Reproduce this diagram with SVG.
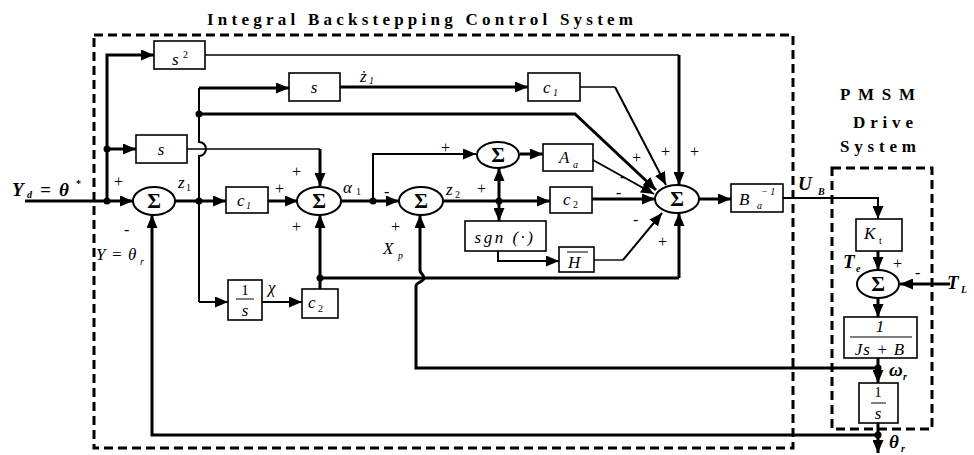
<svg xmlns="http://www.w3.org/2000/svg" width="974" height="455" viewBox="0 0 974 455">
<defs>
<marker id="ah" markerWidth="13" markerHeight="11" refX="13" refY="5.5" orient="auto" markerUnits="userSpaceOnUse"><path d="M0,0 L13,5.5 L0,11 z" fill="#000"/></marker>
<style>
.box{fill:#fff;stroke:#000;stroke-width:1.6}
.sum{fill:#fff;stroke:#000;stroke-width:2}
.dash{fill:none;stroke:#000;stroke-width:3;stroke-dasharray:9 5}
.k{fill:none;stroke:#000;stroke-width:3}
.m{fill:none;stroke:#000;stroke-width:2}
.n{fill:none;stroke:#000;stroke-width:1.4}
.a{marker-end:url(#ah)}
.dot{fill:#000}
text{font-family:"Liberation Serif","Times New Roman",serif;fill:#000}
.title{font-size:17px;font-weight:bold}
.sig{font-size:21px;font-weight:bold;text-anchor:middle}
.i{font-style:italic;font-size:17px}
.bi{font-style:italic;font-weight:bold;font-size:19px}
.sub{font-size:10px}
.pm{font-size:16px}
.c{text-anchor:middle}
</style>
</defs>
<rect width="974" height="455" fill="#fff"/>
<g id="frames">
<rect class="dash" x="94" y="35" width="699" height="413"/>
<rect class="dash" x="832" y="168" width="100" height="261"/>
<text class="title" x="207" y="25" textLength="426" lengthAdjust="spacing">Integral Backstepping Control System</text>
<text class="title" x="840" y="100" textLength="75" lengthAdjust="spacing">PMSM</text>
<text class="title" x="853" y="128" textLength="60" lengthAdjust="spacing">Drive</text>
<text class="title" x="840" y="152" textLength="76" lengthAdjust="spacing">System</text>
</g>
<g id="connectors">
<path class="k a" d="M25,201 H133"/>
<path class="k a" d="M107,201 V55 H154"/>
<path class="k a" d="M107,149 H136"/>
<path class="k a" d="M175,201 H226"/>
<path class="m" d="M199,302 V156 A7,7 0 0 0 199,142 V88"/>
<path class="k a" d="M199,88 H289"/>
<path class="m a" d="M199,302 H228"/>
<path class="k a" d="M199,114 H575 L656,190"/>
<path class="n" d="M187,149 H320"/>
<path class="k a" d="M320,149 V186"/>
<path class="k a" d="M268,201 H298"/>
<path class="m a" d="M262,302 H302"/>
<path class="k a" d="M320,289 V215"/>
<path class="k" d="M320,278 H679"/>
<path class="k a" d="M679,278 V213"/>
<path class="k a" d="M341,201 H399"/>
<path class="m a" d="M373,201 V154 H476"/>
<path class="k a" d="M443,201 H550"/>
<path class="k a" d="M499,201 V168"/>
<path class="k a" d="M499,201 V221"/>
<path class="k a" d="M520,154 H543"/>
<path class="m a" d="M498,251 V261 H559"/>
<path class="k a" d="M340,87 H528"/>
<path class="n" d="M205,55 H679"/>
<path class="k a" d="M679,55 V185"/>
<path class="n" d="M580,87 H615"/>
<path class="m a" d="M615,87 L666,185"/>
<path class="m a" d="M593,160 L654,194"/>
<path class="k a" d="M592,199 H655"/>
<path class="n" d="M594,260 H623"/>
<path class="m a" d="M623,260 L662,213"/>
<path class="k a" d="M699,199 H731"/>
<path class="m a" d="M783,198 H878 V219"/>
<path class="k a" d="M878,251 V270"/>
<path class="k a" d="M950,284 H900"/>
<path class="k a" d="M878,298 V317"/>
<path class="k a" d="M878,358 V383"/>
<path class="k a" d="M878,423 V453"/>
<path class="k a" d="M878,435 H152 V215"/>
<path class="k" d="M878,368 H416 V286 C416,282 424,282 424,278 C424,274 420,274 420,270"/>
<path class="k a" d="M420,271 V215"/>
<circle class="dot" cx="107" cy="201" r="3.5"/>
<circle class="dot" cx="107" cy="149" r="3.5"/>
<circle class="dot" cx="199" cy="201" r="3.5"/>
<circle class="dot" cx="199" cy="114" r="3.5"/>
<circle class="dot" cx="373" cy="201" r="3.5"/>
<circle class="dot" cx="499" cy="201" r="3.5"/>
<circle class="dot" cx="320" cy="278" r="3.5"/>
<circle class="dot" cx="878" cy="368" r="3.5"/>
<circle class="dot" cx="878" cy="435" r="3.5"/>
</g>
<g id="sum1"><ellipse class="sum" cx="154" cy="201" rx="21" ry="14"/><text class="sig" x="154" y="208">Σ</text></g>
<g id="sum2"><ellipse class="sum" cx="319" cy="201" rx="22" ry="14"/><text class="sig" x="319" y="208">Σ</text></g>
<g id="sum3"><ellipse class="sum" cx="421" cy="201" rx="22" ry="14"/><text class="sig" x="421" y="208">Σ</text></g>
<g id="sum4"><ellipse class="sum" cx="498" cy="155" rx="21" ry="13"/><text class="sig" x="498" y="162">Σ</text></g>
<g id="sum5"><ellipse class="sum" cx="677" cy="199" rx="22" ry="14"/><text class="sig" x="677" y="206">Σ</text></g>
<g id="sum6"><ellipse class="sum" cx="878" cy="284" rx="21" ry="14"/><text class="sig" x="878" y="291">Σ</text></g>
<g id="s2"><rect class="box" x="154" y="41" width="51" height="28"/><text class="i" x="172" y="65">s</text><text class="sub" x="183" y="58">2</text></g>
<g id="sLeft"><rect class="box" x="136" y="135" width="51" height="28"/><text class="i c" x="161" y="155">s</text></g>
<g id="sMid"><rect class="box" x="289" y="73" width="51" height="28"/><text class="i c" x="314" y="93">s</text></g>
<g id="c1a"><rect class="box" x="226" y="187" width="42" height="26"/><text class="i" x="237" y="206">c</text><text class="sub" x="246" y="209" font-style="italic">1</text></g>
<g id="int1"><rect class="box" x="228" y="280" width="34" height="40"/><text class="c" font-size="15" x="245" y="295">1</text><line x1="236" y1="299" x2="254" y2="299" stroke="#000" stroke-width="1"/><text class="i c" font-size="15" x="245" y="316">s</text></g>
<g id="c2a"><rect class="box" x="302" y="289" width="36" height="29"/><text class="i" x="308" y="308">c</text><text class="sub" x="318" y="312">2</text></g>
<g id="c1b"><rect class="box" x="528" y="73" width="52" height="28"/><text class="i" x="543" y="93">c</text><text class="sub" x="553" y="96" font-style="italic">1</text></g>
<g id="Aa"><rect class="box" x="543" y="144" width="50" height="27"/><text class="i" x="559" y="163">A</text><text class="sub" x="573" y="168" font-style="italic">a</text></g>
<g id="c2b"><rect class="box" x="550" y="187" width="42" height="26"/><text class="i" x="563" y="205">c</text><text class="sub" x="573" y="208">2</text></g>
<g id="sgn"><rect class="box" x="465" y="221" width="81" height="30"/><text class="i c" x="505" y="243" letter-spacing="2.5">sgn (·)</text></g>
<g id="Hbar"><rect class="box" x="559" y="247" width="35" height="25"/><text class="i" x="568" y="268">H</text><line x1="567" y1="252" x2="588" y2="252" stroke="#000" stroke-width="1"/></g>
<g id="Binv"><rect class="box" x="731" y="184" width="52" height="28"/><text class="i" x="739" y="205">B</text><text class="sub" x="757" y="209" font-style="italic">a</text><text class="sub" x="761" y="195" font-style="italic">− 1</text></g>
<g id="Kt"><rect class="box" x="856" y="219" width="46" height="32"/><text class="i" x="864" y="239">K</text><text class="sub" x="879" y="244" font-size="7">t</text></g>
<g id="plant"><rect class="box" x="844" y="317" width="73" height="41"/><text class="i c" font-size="15" x="880" y="332">1</text><line x1="850" y1="337" x2="912" y2="337" stroke="#000" stroke-width="1"/><text class="i c" font-size="15" x="880" y="355" letter-spacing="1">Js + B</text></g>
<g id="int2"><rect class="box" x="859" y="383" width="39" height="40"/><text class="c" font-size="15" x="878" y="397">1</text><line x1="871" y1="403" x2="886" y2="403" stroke="#000" stroke-width="1"/><text class="i c" font-size="15" x="878" y="419">s</text></g>
<g id="labels">
<text class="bi" font-size="20" x="12" y="196">Y</text><text class="sub" font-weight="bold" font-style="italic" x="27" y="198">d</text><text class="bi" font-size="20" x="40" y="196">=</text><text class="bi" font-size="20" x="59" y="196">θ</text><text class="sub" font-weight="bold" x="76" y="187">*</text>
<text class="pm" x="114" y="187">+</text>
<text class="pm" x="124" y="235">-</text>
<text class="i" x="96" y="260">Y</text><text class="i" x="111" y="260">=</text><text class="i" x="128" y="260">θ</text><text class="sub" font-style="italic" x="140" y="265">r</text>
<text class="i" font-size="16" x="178" y="188">z</text><text class="sub" x="186" y="191">1</text>
<text class="pm" x="292" y="177">+</text>
<text class="pm" x="275" y="194">+</text>
<text class="pm" x="292" y="232">+</text>
<text class="i" x="343" y="193">α</text><text class="sub" x="356" y="195">1</text>
<text class="pm" x="384" y="197">-</text>
<text class="pm" x="441" y="153">+</text>
<text class="i" font-size="16" x="446" y="195">z</text><text class="sub" x="455" y="198">2</text>
<text class="pm" x="477" y="194">+</text>
<text class="pm" x="391" y="232">+</text>
<text class="i" x="383" y="254">X</text><text class="sub" font-style="italic" x="398" y="259">p</text>
<text class="i" x="268" y="293">χ</text>
<text class="i" font-size="16" x="360" y="82">ż</text><text class="sub" font-style="italic" x="369" y="84">1</text>
<text class="pm" x="632" y="163">+</text>
<text class="pm" x="661" y="157">+</text>
<text class="pm" x="690" y="157">+</text>
<text class="pm" x="620" y="182">-</text>
<text class="pm" x="616" y="198">-</text>
<text class="pm" x="633" y="225">-</text>
<text class="pm" x="658" y="247">+</text>
<text class="bi" x="798" y="190">U</text><text class="sub" font-weight="bold" font-style="italic" x="818" y="195">B</text>
<text class="bi" x="843" y="268">T</text><text class="sub" font-weight="bold" font-style="italic" x="856" y="272">e</text>
<text class="pm" x="893" y="269">+</text>
<text class="pm" x="915" y="278">-</text>
<text class="bi" x="947" y="289">T</text><text class="sub" font-weight="bold" font-style="italic" x="961" y="293">L</text>
<text class="bi" x="889" y="376">ω</text><text class="sub" font-weight="bold" font-style="italic" x="903" y="380">r</text>
<text class="bi" x="889" y="448">θ</text><text class="sub" font-weight="bold" font-style="italic" x="901" y="452">r</text>
</g>
</svg>
